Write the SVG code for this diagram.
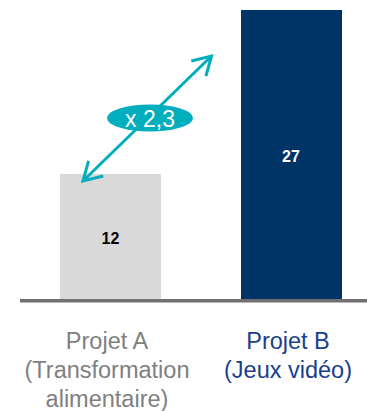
<svg xmlns="http://www.w3.org/2000/svg" width="367" height="411" viewBox="0 0 367 411">
<style>
text{font-family:"Liberation Sans",Arial,sans-serif;}
.val{font-size:16px;font-weight:bold;text-anchor:middle;}
.lbl{font-size:23.5px;text-anchor:middle;}
.conn{stroke:#00AEBD;stroke-width:3;fill:none;}
</style>
<defs>
<marker id="vhead" markerUnits="userSpaceOnUse" markerWidth="30" markerHeight="30" viewBox="-25 -15 30 30" refX="0" refY="0" orient="auto-start-reverse">
<path d="M-18,-10.5 L0,0 L-18,10.5" fill="none" stroke="#00AEBD" stroke-width="3" stroke-linejoin="miter"/>
</marker>
</defs>
<rect width="367" height="411" fill="#FFFFFF"/>
<g id="barA">
<rect x="60" y="174" width="101" height="126" fill="#D9D9D9"/>
<text class="val" x="110.5" y="244" fill="#000000">12</text>
</g>
<g id="barB">
<rect x="241" y="10" width="101" height="290" fill="#003366"/>
<text class="val" x="291" y="162" fill="#FFFFFF">27</text>
</g>
<g id="axis">
<line x1="20" y1="300.8" x2="367" y2="300.8" stroke="#707070" stroke-width="3.5"/>
</g>
<g id="connectors">
<line class="conn" x1="83" y1="181" x2="211.5" y2="56" marker-start="url(#vhead)" marker-end="url(#vhead)"/>
</g>
<g id="ratio">
<ellipse cx="150" cy="118" rx="43" ry="13.5" fill="#00AEBD"/>
<text x="150" y="127" font-size="23px" text-anchor="middle" fill="#FFFFFF">x 2,3</text>
</g>
<g id="labelA" fill="#7F7F7F">
<text class="lbl" x="107" y="349">Projet A</text>
<text class="lbl" x="107" y="378">(Transformation</text>
<text class="lbl" x="107" y="407">alimentaire)</text>
</g>
<g id="labelB" fill="#1A3E8C">
<text class="lbl" x="288" y="349">Projet B</text>
<text class="lbl" x="288" y="378">(Jeux vidéo)</text>
</g>
</svg>
